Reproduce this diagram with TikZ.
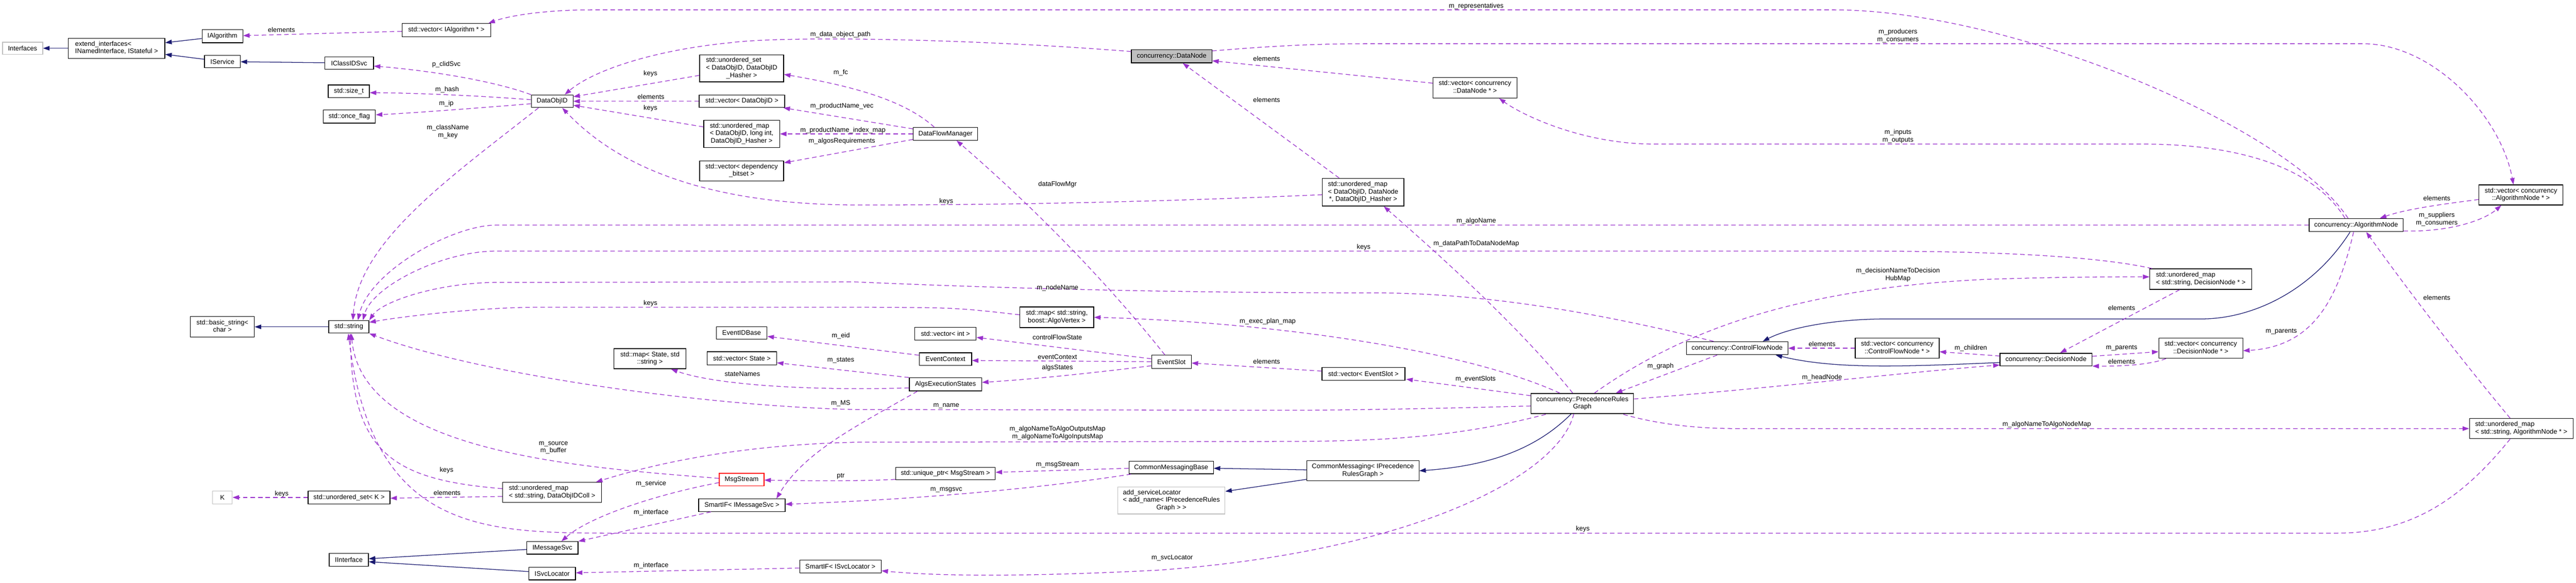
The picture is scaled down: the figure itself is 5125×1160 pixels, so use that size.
\documentclass[tikz,border=0pt]{standalone}
\usepackage{fontspec}
\setmainfont{Liberation Sans}
\usetikzlibrary{arrows.meta,calc}
\definecolor{usec}{HTML}{9A32CD}
\definecolor{inhc}{HTML}{191970}
\newcommand\twoL[2]{\begin{tabular}{@{}l@{}}#1\\\multicolumn{1}{@{}c@{}}{#2}\end{tabular}}
\newcommand\threeL[3]{\begin{tabular}{@{}l@{}}#1\\#2\\\multicolumn{1}{@{}c@{}}{#3}\end{tabular}}
\tikzset{
  box/.style={draw=black, line width=1.3pt, inner sep=0pt, fill=white, text=black,
    font=\fontsize{13.2}{15}\selectfont},
  gbox/.style={box, draw=gray!50},
  lbl/.style={inner sep=0pt, align=center, text=black, font=\fontsize{13.2}{15}\selectfont},
  use/.style={draw=usec, line width=1.3pt, dash pattern=on 9pt off 6pt,
    -{Triangle[length=13pt,width=9pt]}},
  inh/.style={draw=inhc, line width=1.3pt, -{Triangle[length=13pt,width=9pt]}}
}
\begin{document}
\begin{tikzpicture}[x=1pt,y=-1pt]
\fill[white] (0,0) rectangle (5125,1160);
\useasboundingbox (0,0) rectangle (5125,1160);
% ---------------- nodes ----------------
\node[gbox,minimum width=80pt,minimum height=24pt] (interfaces) at (45,96) {Interfaces};
\node[box,minimum width=192pt,minimum height=40pt] (extif) at (232,96) {\twoL{extend\_interfaces<}{INamedInterface, IStateful >}};
\node[box,minimum width=81pt,minimum height=26pt] (ialg) at (442.5,72) {IAlgorithm};
\node[box,minimum width=71pt,minimum height=25pt] (isvc) at (442.5,122.5) {IService};
\node[box,minimum width=97pt,minimum height=25pt] (iclid) at (694.5,125.5) {IClassIDSvc};
\node[box,minimum width=82pt,minimum height=25pt] (sizet) at (694,181.5) {std::size\_t};
\node[box,minimum width=104pt,minimum height=26pt] (onceflag) at (695,232) {std::once\_flag};
\node[box,minimum width=176pt,minimum height=26pt] (vecialg) at (888,60) {std::vector< IAlgorithm * >};
\node[box,minimum width=83pt,minimum height=25pt] (dataobjid) at (1098.5,201.5) {DataObjID};
\node[box,minimum width=167pt,minimum height=54pt] (uset) at (1475.5,136) {\threeL{std::unordered\_set}{< DataObjID, DataObjID}{\_Hasher >}};
\node[box,minimum width=170pt,minimum height=25pt] (vecdoid) at (1476,201.5) {std::vector< DataObjID >};
\node[box,minimum width=151pt,minimum height=55pt] (umaplong) at (1475.5,266.5) {\threeL{std::unordered\_map}{< DataObjID, long int,}{DataObjID\_Hasher >}};
\node[box,minimum width=167pt,minimum height=40pt] (vecdep) at (1475.5,340) {\twoL{std::vector< dependency}{\_bitset >}};
\node[box,minimum width=128pt,minimum height=25pt] (dfm) at (1881,266.5) {DataFlowManager};
\node[box,fill=gray!50,minimum width=160pt,minimum height=26pt] (datanode) at (2331,112) {concurrency::DataNode};
\node[box,minimum width=167pt,minimum height=41pt] (vecdn) at (2934.5,174.5) {\twoL{std::vector< concurrency}{::DataNode * >}};
\node[box,minimum width=162pt,minimum height=55pt] (umapdn) at (2712,382.5) {\threeL{std::unordered\_map}{< DataObjID, DataNode}{*, DataObjID\_Hasher >}};
\node[box,minimum width=167pt,minimum height=40pt] (vecan) at (5015.5,388) {\twoL{std::vector< concurrency}{::AlgorithmNode * >}};
\node[box,minimum width=187pt,minimum height=26pt] (algnode) at (4687.5,448) {concurrency::AlgorithmNode};
\node[box,minimum width=203pt,minimum height=41pt] (umapdec) at (4378.5,555.5) {\twoL{std::unordered\_map}{< std::string, DecisionNode * >}};
\node[box,minimum width=127pt,minimum height=41pt] (basicstr) at (442.5,650.5) {\twoL{std::basic\_string<}{char >}};
\node[box,minimum width=80pt,minimum height=25pt] (stdstring) at (694,650.5) {std::string};
\node[gbox,minimum width=39pt,minimum height=26pt] (K) at (442.5,990) {K};
\node[box,minimum width=163pt,minimum height=26pt] (usetk) at (694.5,990) {std::unordered\_set< K >};
\node[box,minimum width=78pt,minimum height=26pt] (iinterface) at (694,1114) {IInterface};
\node[box,minimum width=144pt,minimum height=40pt] (mapstate) at (1293,714) {\twoL{std::map< State, std}{::string >}};
\node[box,minimum width=101pt,minimum height=25pt] (eventidbase) at (1475.5,662.5) {EventIDBase};
\node[box,minimum width=138pt,minimum height=26pt] (vecstate) at (1476,713) {std::vector< State >};
\node[box,minimum width=197pt,minimum height=40pt] (umapcoll) at (1098.5,980) {\twoL{std::unordered\_map}{< std::string, DataObjIDColl >}};
\node[box,draw=red,minimum width=89pt,minimum height=25pt] (msgstream) at (1475.5,954.5) {MsgStream};
\node[box,minimum width=172pt,minimum height=25pt] (smartmsg) at (1476,1005.5) {SmartIF< IMessageSvc >};
\node[box,minimum width=102pt,minimum height=25pt] (imsgsvc) at (1099,1090.5) {IMessageSvc};
\node[box,minimum width=93pt,minimum height=25pt] (isvcloc) at (1098.5,1141.5) {ISvcLocator};
\node[box,minimum width=162pt,minimum height=25pt] (smartsvc) at (1672,1127.5) {SmartIF< ISvcLocator >};
\node[box,minimum width=147pt,minimum height=41pt] (mapalgov) at (2102.5,631.5) {\twoL{std::map< std::string,}{boost::AlgoVertex >}};
\node[box,minimum width=122pt,minimum height=26pt] (vecint) at (1881,664) {std::vector< int >};
\node[box,minimum width=104pt,minimum height=25pt] (eventctx) at (1881,714.5) {EventContext};
\node[box,minimum width=79pt,minimum height=26pt] (eventslot) at (2330.5,720) {EventSlot};
\node[box,minimum width=144pt,minimum height=26pt] (algsexec) at (1881,765) {AlgsExecutionStates};
\node[box,minimum width=168pt,minimum height=25pt] (cmbase) at (2330,930.5) {CommonMessagingBase};
\node[box,minimum width=198pt,minimum height=25pt] (uptr) at (1881,942.5) {std::unique\_ptr< MsgStream >};
\node[gbox,minimum width=213pt,minimum height=54pt] (addsvc) at (2330.5,996) {\threeL{add\_serviceLocator}{< add\_name< IPrecedenceRules}{Graph > >}};
\node[box,minimum width=165pt,minimum height=26pt] (veces) at (2712.5,744) {std::vector< EventSlot >};
\node[box,minimum width=204pt,minimum height=40pt] (prg) at (3148,803) {\twoL{concurrency::PrecedenceRules}{Graph}};
\node[box,minimum width=223pt,minimum height=40pt] (cmsg) at (2711.5,937) {\twoL{CommonMessaging< IPrecedence}{RulesGraph >}};
\node[box,minimum width=202pt,minimum height=26pt] (cfn) at (3456,693) {concurrency::ControlFlowNode};
\node[box,minimum width=167pt,minimum height=40pt] (veccfn) at (3774.5,693) {\twoL{std::vector< concurrency}{::ControlFlowNode * >}};
\node[box,minimum width=183pt,minimum height=25pt] (decnode) at (4070.5,715.5) {concurrency::DecisionNode};
\node[box,minimum width=167pt,minimum height=40pt] (vecdec) at (4378.5,693) {\twoL{std::vector< concurrency}{::DecisionNode * >}};
\node[box,minimum width=206pt,minimum height=40pt] (umapan) at (5016,853) {\twoL{std::unordered\_map}{< std::string, AlgorithmNode * >}};
% ---------------- inheritance ----------------
\draw[inh] (extif) -- (interfaces);
\draw[inh] (ialg) -- (extif);
\draw[inh] (isvc) -- (extif);
\draw[inh] (iclid) -- (isvc);
\draw[inh] (stdstring) -- (basicstr);
\draw[inh] ($(imsgsvc.west)+(0,3)$) -- ($(iinterface.east)+(0,-2)$);
\draw[inh] ($(isvcloc.west)+(0,-4)$) -- ($(iinterface.east)+(0,4)$);
\draw[inh] ($(prg.south)+(-22,0)$) .. controls (3050,900) and (2950,928) .. (cmsg.east);
\draw[inh] ($(cmsg.west)+(0,-2)$) -- ($(cmbase.east)+(0,1.5)$);
\draw[inh] ($(cmsg.west)+(0,17)$) -- ($(addsvc.east)+(0,-18)$);
\draw[inh] ($(algnode.south)+(-12,0)$) .. controls (4600,580) and (4480,634.7) .. (4380,634.7) -- (3756,634.7) .. controls (3650,634.7) and (3560,652) .. ($(cfn.north)+(51,0)$);
\draw[inh] ($(decnode.west)+(0,6)$) .. controls (3780,730) and (3650,735) .. ($(cfn.south east)+(-25,0)$);
% ---------------- usage ----------------
\draw[use] (vecialg) -- (ialg);
\draw[use] ($(algnode.north)+(-16,0)$) .. controls (4550,250) and (4000,19.6) .. (3647,19.6) -- (1179,19.6) .. controls (1080,19.6) and (1010,32) .. ($(vecialg.north east)+(-5,0)$);
\draw[use] (dataobjid.north west) .. controls (980,160) and (850,140) .. ($(iclid.east)+(0,6)$);
\draw[use] ($(dataobjid.west)+(0,-3)$) .. controls (950,190) and (820,185) .. ($(sizet.east)+(0,3)$);
\draw[use] ($(dataobjid.west)+(0,5)$) .. controls (950,215) and (820,225) .. ($(onceflag.east)+(0,-3.5)$);
\draw[use] ($(dataobjid.south west)+(15,0)$) .. controls (900,350) and (713,480) .. ($(stdstring.north)+(8,0)$);
\draw[use] ($(datanode.west)+(0,-9.5)$) .. controls (1900,75) and (1550,72) .. (1453,85) .. controls (1300,100) and (1180,140) .. ($(dataobjid.north)+(25,0)$);
\draw[use] ($(uset.west)+(0,14)$) -- ($(dataobjid.east)+(0,-9)$);
\draw[use] (vecdoid) -- (dataobjid);
\draw[use] ($(umaplong.west)+(0,-14)$) -- ($(dataobjid.east)+(0,8)$);
\draw[use] ($(umapdn.west)+(0,5)$) .. controls (2300,402) and (2000,408) .. (1710,408) .. controls (1350,408) and (1200,300) .. ($(dataobjid.south)+(20,0)$);
\draw[use] ($(dfm.north)+(-22,0)$) .. controls (1800,200) and (1700,172) .. ($(uset.east)+(0,12)$);
\draw[use] ($(dfm.west)+(0,-10)$) -- ($(vecdoid.south east)+(-3,0)$);
\draw[use] (dfm) -- (umaplong);
\draw[use] ($(dfm.west)+(0,11)$) -- ($(vecdep.east)+(0,-16)$);
\draw[use] ($(eventslot.north)+(-13,0)$) .. controls (2205,565) and (2065,420) .. ($(dfm.south)+(22,0)$);
\draw[use] ($(umapdn.north west)+(34,0)$) -- ($(datanode.south)+(22,0)$);
\draw[use] ($(vecdn.west)+(0,-9)$) -- ($(datanode.east)+(0,9)$);
\draw[use] ($(datanode.north east)+(0,3)$) .. controls (2500,94) and (2600,87) .. (2714,87) -- (4701,87) .. controls (4840,87) and (4975,230) .. ($(vecan.north)+(-15,0)$);
\draw[use] ($(algnode.north)+(-22,0)$) .. controls (4600,330) and (4450,286.7) .. (4260,286.7) -- (3290,286.7) .. controls (3150,286.7) and (3030,230) .. ($(vecdn.south)+(48,0)$);
\draw[use] (algnode.west) -- (987,448) .. controls (900,448) and (735,540) .. ($(stdstring.north)+(18,0)$);
\draw[use] ($(umapdec.north west)+(5,0)$) .. controls (4150,505) and (3900,499.7) .. (3700,499.7) -- (987,499.7) .. controls (880,499.7) and (740,570) .. ($(stdstring.north)+(28,0)$);
\draw[use] ($(prg.north)+(-19,0)$) .. controls (3030,660) and (2895,535) .. ($(umapdn.south)+(41,0)$);
\draw[use] ($(cfn.north west)+(55,0)$) .. controls (3250,640) and (3000,585) .. (2750,583) .. controls (2300,583) and (1950,572) .. (1700,561) -- (987,562) .. controls (870,563) and (760,600) .. (stdstring.north east);
\draw[use] ($(vecan.west)+(0,9)$) .. controls (4870,405) and (4790,415) .. ($(algnode.north east)+(-47,0)$);
\draw[use] ($(algnode.south east)+(0,-2)$) .. controls (4870,462) and (4940,440) .. ($(vecan.south west)+(45,0)$);
\draw[use] ($(prg.north)+(24,0)$) .. controls (3330,670) and (3550,575) .. (3950,556) .. controls (4100,551) and (4200,551) .. ($(umapdec.west)+(0,-4.5)$);
\draw[use] ($(umapdec.south west)+(60,0)$) -- ($(decnode.north)+(28,0)$);
\draw[use] ($(algnode.south)+(-5,0)$) .. controls (4650,600) and (4600,690) .. ($(vecdec.east)+(0,5)$);
\draw[use] ($(decnode.east)+(0,-6.5)$) -- ($(vecdec.west)+(0,7)$);
\draw[use] ($(vecdec.south west)+(15,0)$) .. controls (4280,725) and (4230,729) .. (decnode.south east);
\draw[use] ($(decnode.west)+(0,-7)$) -- ($(veccfn.east)+(0,7)$);
\draw[use] (veccfn) -- (cfn);
\draw[use] ($(prg.east)+(0,-9)$) .. controls (3500,775) and (3800,740) .. ($(decnode.west)+(0,11)$);
\draw[use] ($(cfn.south west)+(62,0)$) -- ($(prg.north east)+(-36,0)$);
\draw[use] ($(prg.north west)+(58,0)$) .. controls (2900,690) and (2500,640) .. (mapalgov.east);
\draw[use] ($(mapalgov.west)+(0,-5)$) .. controls (1900,612) .. (1700,611.4) -- (1069,611.4) .. controls (950,612) and (800,630) .. ($(stdstring.east)+(0,-9)$);
\draw[use] ($(prg.west)+(0,-15.5)$) -- ($(veces.south east)+(2,-3)$);
\draw[use] ($(veces.west)+(0,-5.5)$) -- ($(eventslot.east)+(0,2.5)$);
\draw[use] ($(eventslot.west)+(0,-6)$) -- ($(vecint.east)+(0,7.5)$);
\draw[use] (eventslot) -- ($(eventctx.east)+(0,3)$);
\draw[use] ($(eventslot.west)+(0,8)$) .. controls (2150,745) and (2050,755) .. ($(algsexec.east)+(0,-4)$);
\draw[use] ($(eventctx.west)+(0,-7.5)$) -- ($(eventidbase.east)+(0,7)$);
\draw[use] (algsexec.north west) -- ($(vecstate.east)+(0,9)$);
\draw[use] ($(algsexec.west)+(0,7)$) .. controls (1600,778) and (1420,765) .. ($(mapstate.south)+(42,0)$);
\draw[use] ($(algsexec.south west)+(17,0)$) .. controls (1700,850) and (1600,900) .. ($(smartmsg.north east)+(-18,0)$);
\draw[use] ($(prg.west)+(0,5)$) .. controls (2900,812) and (2700,816.5) .. (2550,816.5) -- (1700,815) .. controls (1400,808) and (950,745) .. (stdstring.south east);
\draw[use] ($(prg.south west)+(30,1)$) .. controls (2900,870) and (2750,878.5) .. (2550,878.5) -- (1710,880) .. controls (1450,885) and (1280,930) .. ($(umapcoll.north east)+(-12,0)$);
\draw[use] ($(umapcoll.west)+(0,-7.5)$) .. controls (780,955) and (700,900) .. ($(stdstring.south)+(3,0)$);
\draw[use] ($(umapcoll.west)+(0,8)$) -- ($(usetk.east)+(0,1.5)$);
\draw[use] (usetk) -- (K);
\draw[use] ($(msgstream.west)+(0,-2.5)$) .. controls (1150,930) and (720,900) .. ($(stdstring.south)+(5,0)$);
\draw[use] ($(msgstream.west)+(0,6)$) .. controls (1300,985) and (1170,1030) .. ($(imsgsvc.north)+(18,0)$);
\draw[use] ($(smartmsg.south west)+(25,0)$) -- (imsgsvc.north east);
\draw[use] ($(uptr.south west)+(0,-1.5)$) .. controls (1700,958) and (1600,957) .. ($(msgstream.east)+(0,1)$);
\draw[use] ($(cmbase.west)+(0,1.5)$) -- ($(uptr.east)+(0,-2.5)$);
\draw[use] ($(cmbase.south west)+(5,0)$) .. controls (2050,975) and (1800,995) .. ($(smartmsg.east)+(0,-2)$);
\draw[use] ($(umapan.south)+(-22,0)$) .. controls (4900,990) and (4800,1061) .. (4650,1061) -- (1200,1061) .. controls (950,1060) and (740,1050) .. ($(stdstring.south)+(-1,0)$);
\draw[use] ($(prg.south)+(-17,0)$) .. controls (3100,950) and (2800,1100) .. (2300,1135) .. controls (2000,1150) and (1850,1145) .. ($(smartsvc.east)+(0,8.5)$);
\draw[use] ($(smartsvc.west)+(0,3)$) -- ($(isvcloc.east)+(0,-1.5)$);
\draw[use] ($(umapan.north)+(-22,0)$) .. controls (4888,705) and (4795,583) .. ($(algnode.south)+(20,0)$);
\draw[use] ($(prg.south east)+(-21,1)$) .. controls (3300,845) and (3380,853) .. (3455,853) -- (umapan.west);
% ---------------- labels ----------------
\node[lbl] (l1) at (560,59.5) {elements};
\node[lbl] (l2) at (2937,12) {m\_representatives};
\node[lbl] (l3) at (888,128.7) {p\_clidSvc};
\node[lbl] (l4) at (889.5,178.7) {m\_hash};
\node[lbl] (l5) at (888,206.6) {m\_ip};
\node[lbl] (l6) at (891,262) {m\_className\\m\_key};
\node[lbl] (l7) at (1672,69) {m\_data\_object\_path};
\node[lbl] (l8) at (1294,146.7) {keys};
\node[lbl] (l9) at (1295,192.6) {elements};
\node[lbl] (l10) at (1294,215.6) {keys};
\node[lbl] (l11) at (1882.6,400.7) {keys};
\node[lbl] (l12) at (1672.7,145) {m\_fc};
\node[lbl] (l13) at (1675,211) {m\_productName\_vec};
\node[lbl] (l14) at (1677,259) {m\_productName\_index\_map};
\node[lbl] (l15) at (1675,280.7) {m\_algosRequirements};
\node[lbl] (l16) at (2104,367.6) {dataFlowMgr};
\node[lbl] (l17) at (2520,198.7) {elements};
\node[lbl] (l18) at (2520,116.6) {elements};
\node[lbl] (l19) at (3776,71.5) {m\_producers\\m\_consumers};
\node[lbl] (l20) at (3776,271.3) {m\_inputs\\m\_outputs};
\node[lbl] (l21) at (2937,439.5) {m\_algoName};
\node[lbl] (l22) at (2713,491.8) {keys};
\node[lbl] (l23) at (2937,484.6) {m\_dataPathToDataNodeMap};
\node[lbl] (l24) at (2104,572.7) {m\_nodeName};
\node[lbl] (l25) at (4848,394) {elements};
\node[lbl] (l26) at (4848,436.5) {m\_suppliers\\m\_consumers};
\node[lbl] (l27) at (3776,547) {m\_decisionNameToDecision\\HubMap};
\node[lbl] (l28) at (4221,612.5) {elements};
\node[lbl] (l29) at (4538.6,659.6) {m\_parents};
\node[lbl] (l30) at (4221,692.7) {m\_parents};
\node[lbl] (l31) at (4221,719) {elements};
\node[lbl] (l32) at (3921,692.7) {m\_children};
\node[lbl] (l33) at (3625,684.8) {elements};
\node[lbl] (l34) at (3625,751.7) {m\_headNode};
\node[lbl] (l35) at (3303.6,728.8) {m\_graph};
\node[lbl] (l36) at (2522,640) {m\_exec\_plan\_map};
\node[lbl] (l37) at (1294,604) {keys};
\node[lbl] (l38) at (2935.6,754.8) {m\_eventSlots};
\node[lbl] (l39) at (2520,719.8) {elements};
\node[lbl] (l40) at (2103.7,671.6) {controlFlowState};
\node[lbl] (l41) at (2103.7,710.7) {eventContext};
\node[lbl] (l42) at (2103.7,731.8) {algsStates};
\node[lbl] (l43) at (1672.7,668.6) {m\_eid};
\node[lbl] (l44) at (1672.7,716.7) {m\_states};
\node[lbl] (l45) at (1477,744) {stateNames};
\node[lbl] (l46) at (1672.7,802.5) {m\_MS};
\node[lbl] (l47) at (1882.6,807.8) {m\_name};
\node[lbl] (l48) at (2104,861.7) {m\_algoNameToAlgoOutputsMap\\m\_algoNameToAlgoInputsMap};
\node[lbl] (l49) at (888.4,935.7) {keys};
\node[lbl] (l50) at (889.5,980.5) {elements};
\node[lbl] (l51) at (560.5,982.8) {keys};
\node[lbl] (l52) at (1101,891) {m\_source\\m\_buffer};
\node[lbl] (l53) at (1295.4,962.5) {m\_service};
\node[lbl] (l54) at (1295.4,1020.4) {m\_interface};
\node[lbl] (l55) at (1672.7,947.4) {ptr};
\node[lbl] (l56) at (2104,924.5) {m\_msgStream};
\node[lbl] (l57) at (1882.6,974.9) {m\_msgsvc};
\node[lbl] (l58) at (3149,1052.8) {keys};
\node[lbl] (l59) at (2332,1110.7) {m\_svcLocator};
\node[lbl] (l60) at (1295.4,1126) {m\_interface};
\node[lbl] (l61) at (4848,592.6) {elements};
\node[lbl] (l62) at (4072,844.7) {m\_algoNameToAlgoNodeMap};
\end{tikzpicture}
\end{document}
